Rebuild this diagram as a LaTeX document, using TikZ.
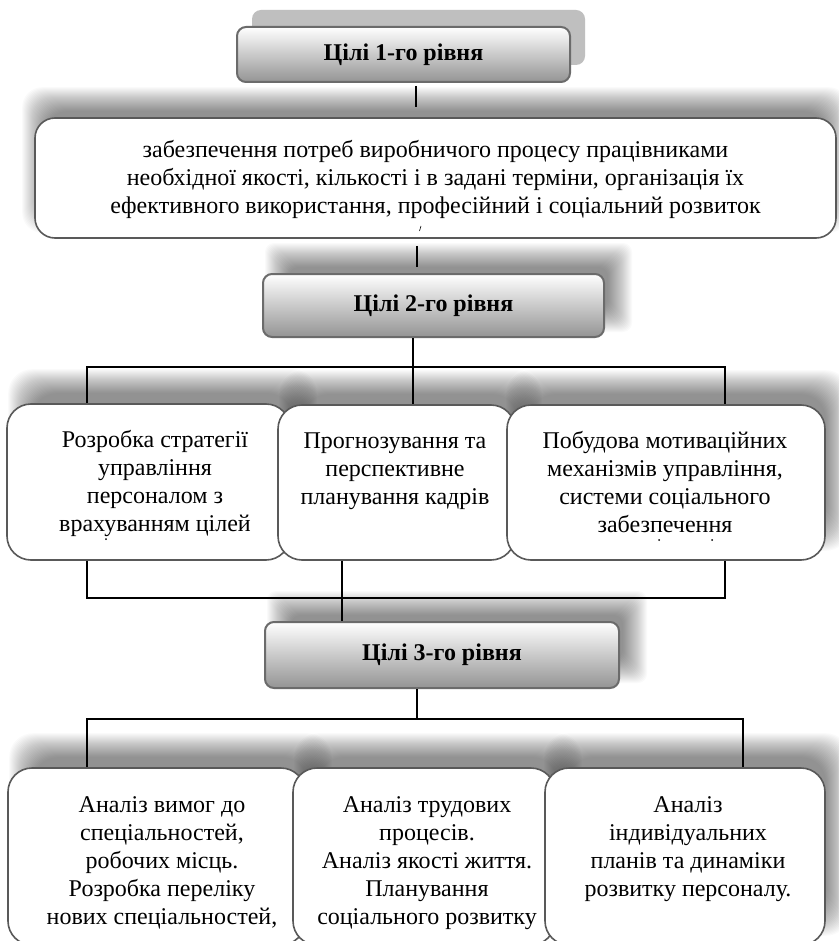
\documentclass[tikz,border=0pt]{standalone}
\usepackage{fontspec}
\setmainfont{Liberation Serif}

\pgfdeclarelayer{shadowlayer}
\pgfsetlayers{shadowlayer,main}

\tikzset{
  conn/.style={draw=black, line width=1.4pt},
  goalbox/.style={draw=black!58, line width=2pt, rounded corners=9pt,
    top color=white, bottom color=black!42, inner sep=0pt,
    font=\bfseries\fontsize{24}{28}\selectfont},
  flatshadow/.style={fill=black!25, rounded corners=9pt, inner sep=0pt},
  card/.style={draw=black!65, line width=1.6pt, rounded corners=24pt,
    fill=white, inner sep=0pt},
  cardtext/.style={align=center, inner sep=0pt, anchor=north,
    font=\fontsize{24}{28}\selectfont},
  glowlayer/.style={fill=black, fill opacity=0.021},
}

% soft drop shadow behind a node: #1 node, #2 x offset, #3 y offset (up), #4 corner radius
\newcommand\dropglow[4]{%
  \foreach \r in {-12,-11,...,12} {
    \fill[glowlayer, rounded corners=#4]
      ([xshift={(#2)-(\r)*1pt}, yshift={(#3)-(\r)*1pt}]#1.south west) rectangle
      ([xshift={(#2)+(\r)*1pt}, yshift={(#3)+(\r)*1pt}]#1.north east);
  }}

\begin{document}
\begin{tikzpicture}[x=1pt, y=-1pt]
\useasboundingbox (0,0) rectangle (838,941);

% level 1 title
\node[flatshadow, minimum width=333pt, minimum height=55pt] (g1s) at (418.5,37.5) {};
\node[goalbox, minimum width=333pt, minimum height=55pt] (g1) at (403.5,54.5) {Цілі 1-го рівня};

% level 1 goal
\node[card, rounded corners=20pt, minimum width=801pt, minimum height=120pt] (main) at (435.5,178) {};
\node[cardtext] (maint) at ([yshift=-20.4pt]main.north) {\strut забезпечення потреб виробничого процесу працівниками\\
необхідної якості, кількості і в задані терміни, організація їх\\
ефективного використання, професійний і соціальний розвиток};
\draw[line width=0.6pt] (419.5,231) -- (421,226);

% level 2 title
\node[goalbox, minimum width=341pt, minimum height=63pt] (g2) at (433.5,305.5) {Цілі 2-го рівня};

% level 2 goals
\node[card, minimum width=283pt, minimum height=156pt] (a2) at (148.5,482) {};
\node[card, minimum width=237pt, minimum height=155pt] (b2) at (396.5,482.5) {};
\node[card, minimum width=318pt, minimum height=155pt] (c2) at (666,482.5) {};
\node[cardtext] (a2t) at ([xshift=6.5pt,yshift=-24pt]a2.north) {\strut Розробка стратегії\\ управління\\ персоналом з\\ врахуванням цілей};
\node[cardtext] (b2t) at ([xshift=-1.5pt,yshift=-24pt]b2.north) {\strut Прогнозування та\\ перспективне\\ планування кадрів};
\node[cardtext] (c2t) at ([xshift=-1pt,yshift=-24pt]c2.north) {\strut Побудова мотиваційних\\ механізмів управління,\\ системи соціального\\ забезпечення};
\fill (106,539) circle (1pt);
\fill (659,540) circle (1pt);
\fill (712,540) circle (1pt);

% level 3 title
\node[goalbox, minimum width=354pt, minimum height=66pt] (g3) at (442,655) {Цілі 3-го рівня};

% level 3 goals
\node[card, minimum width=297pt, minimum height=177pt] (a3) at (156.5,856.5) {};
\node[card, minimum width=262pt, minimum height=177pt] (b3) at (424,856.5) {};
\node[card, minimum width=280pt, minimum height=177pt] (c3) at (685,856.5) {};
\node[cardtext] (a3t) at ([xshift=5.5pt,yshift=-25pt]a3.north) {\strut Аналіз вимог до\\ спеціальностей,\\ робочих місць.\\ Розробка переліку\\ нових спеціальностей,};
\node[cardtext] (b3t) at ([xshift=3pt,yshift=-25pt]b3.north) {\strut Аналіз трудових\\ процесів.\\ Аналіз якості життя.\\ Планування\\ соціального розвитку};
\node[cardtext] (c3t) at ([xshift=3pt,yshift=-25pt]c3.north) {\strut Аналіз\\ індивідуальних\\ планів та динаміки\\ розвитку персоналу.};

% connectors
\coordinate (j2) at (413,367);
\coordinate (k2) at (725,598);
\coordinate (j3) at (417,719);
\draw[conn, shorten <=3pt, shorten >=10pt] (416,0 |- g1.south) -- (416,0 |- main.north);
\draw[conn, shorten <=7pt, shorten >=6pt] (417,0 |- main.south) -- (417,0 |- g2.north);
\draw[conn] (j2 |- g2.south) -- (j2);
\draw[conn] (87,0 |- a2.north) |- (725,0 |- j2) -- (725,0 |- c2.north);
\draw[conn] (j2) -- (j2 |- b2.north);
\draw[conn] (87,0 |- a2.south) |- (k2) -- (k2 |- c2.south);
\draw[conn] (342,0 |- b2.south) -- (342,0 |- g3.north);
\draw[conn] (j3 |- g3.south) -- (j3);
\draw[conn] (87,0 |- a3.north) |- (743,0 |- j3) -- (743,0 |- c3.north);

% soft shadows behind the boxes
\begin{pgfonlayer}{shadowlayer}
  \fill[white] (0,0) rectangle (838,941);
  \dropglow{main}{0pt}{18pt}{20pt}
  \dropglow{g2}{15pt}{18pt}{9pt}
  \dropglow{a2}{14pt}{22pt}{24pt}
  \dropglow{b2}{14pt}{22pt}{24pt}
  \dropglow{c2}{12pt}{22pt}{24pt}
  \dropglow{g3}{15pt}{18pt}{9pt}
  \dropglow{a3}{14pt}{22pt}{24pt}
  \dropglow{b3}{14pt}{22pt}{24pt}
  \dropglow{c3}{12pt}{22pt}{24pt}
\end{pgfonlayer}
\end{tikzpicture}
\end{document}
